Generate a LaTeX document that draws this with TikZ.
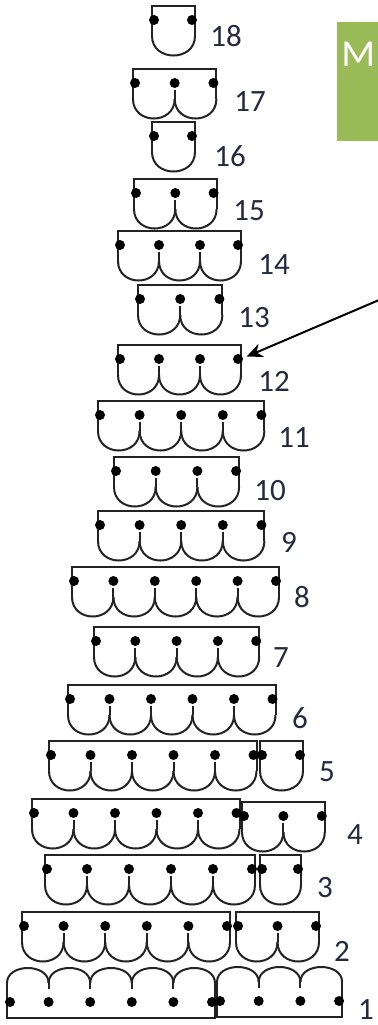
\documentclass[tikz,border=0pt]{standalone}
\usepackage{fontspec}
\setmainfont{Carlito}
\usepackage{tikz}
\usetikzlibrary{arrows.meta}

\definecolor{inkgray}{RGB}{35,35,35}
\definecolor{labelblue}{RGB}{38,42,64}
\definecolor{mgreen}{RGB}{155,187,89}

\tikzset{
  tierline/.style={draw=inkgray, line width=1pt},
  tierdot/.style={fill=black},
  lbl/.style={text=labelblue, font=\fontsize{15.5}{15.5}\selectfont, inner sep=0pt},
  pointer/.style={-{Stealth[length=8pt,width=7pt]}, line width=1pt, shorten >=3pt}
}

% tier with arcs hanging down: left, top, units, unit width, name
\newcommand{\scallop}[5]{%
  \draw[tierline] (#1,#2+30) -- (#1,#2) -- ({#1+#3*#4},#2) -- ({#1+#3*#4},#2+30);
  \foreach \k in {1,...,#3}
    \draw[tierline] ({#1+(\k-1)*#4},#2+30) .. controls ({#1+(\k-1)*#4},#2+56) and ({#1+\k*#4},#2+56) .. ({#1+\k*#4},#2+30);
  \ifnum#3>1
    \foreach \k in {2,...,#3}{
      \draw[tierline] ({#1+(\k-1)*#4},#2+21) -- ({#1+(\k-1)*#4},#2+30);
      \fill[tierdot] ({#1+(\k-1)*#4},#2+14) circle (2.5pt);
    }
  \fi
  \fill[tierdot] ({#1+2},#2+14) circle (2.5pt);
  \fill[tierdot] ({#1+#3*#4-3},#2+14) circle (2.5pt);
  \coordinate (#5-e) at ({#1+#3*#4},#2+14);
}

% tier with arcs standing up: left, bottom, units, unit width, name
\newcommand{\scallopup}[5]{%
  \draw[tierline] (#1,#2-35) -- (#1,#2) -- ({#1+#3*#4},#2) -- ({#1+#3*#4},#2-35);
  \foreach \k in {1,...,#3}
    \draw[tierline] ({#1+(\k-1)*#4},#2-35) .. controls ({#1+(\k-1)*#4},#2-55) and ({#1+\k*#4},#2-55) .. ({#1+\k*#4},#2-35);
  \ifnum#3>1
    \foreach \k in {2,...,#3}{
      \draw[tierline] ({#1+(\k-1)*#4},#2-37) -- ({#1+(\k-1)*#4},#2-29);
      \fill[tierdot] ({#1+(\k-1)*#4},#2-16) circle (2.5pt);
    }
  \fi
  \fill[tierdot] ({#1+3},#2-16) circle (2.5pt);
  \fill[tierdot] ({#1+#3*#4-3},#2-16) circle (2.5pt);
  \coordinate (#5-e) at ({#1+#3*#4},#2-16);
}

\begin{document}
\begin{tikzpicture}[x=0.5pt,y=-0.5pt]

\useasboundingbox (0,0) rectangle (377,1025);

% green tab, top right
\fill[mgreen] (337,22) rectangle (380,141);
\node[text=white, font=\fontsize{19}{19}\selectfont, anchor=base west, inner sep=0pt] (mtab) at (341,66) {\scalebox{1.04}[1]{M}};

% the tiers, top to bottom
\scallop{152}{6}{1}{43}{t18}
\scallop{133}{69}{2}{41.7}{t17}
\scallop{152}{122}{1}{43}{t16}
\scallop{134}{179}{2}{41.3}{t15}
\scallop{118}{231}{3}{41}{t14}
\scallop{138}{285}{2}{42.2}{t13}
\scallop{118}{345}{3}{41}{t12}
\scallop{98}{401}{4}{41.6}{t11}
\scallop{114}{457}{3}{41.7}{t10}
\scallop{98}{511}{4}{41.6}{t9}
\scallop{72}{567}{5}{41.4}{t8}
\scallop{94}{627}{4}{41.3}{t7}
\scallop{68}{685}{5}{41.5}{t6}
\scallop{49}{741}{5}{41.5}{t5a}
\scallop{260}{741}{1}{43}{t5b}
\scallop{32}{799}{5}{41.5}{t4a}
\scallop{242}{802}{2}{41.4}{t4b}
\scallop{45}{855}{5}{42}{t3a}
\scallop{260}{855}{1}{41}{t3b}
\scallop{22}{912}{5}{41.6}{t2a}
\scallop{236}{912}{2}{41.5}{t2b}
\scallopup{7}{1018}{5}{41.6}{t1a}
\scallopup{217}{1017}{3}{41.7}{t1b}

% numbers
\node[lbl] (n18) at (226,36) {18};
\node[lbl] (n17) at (250,102) {17};
\node[lbl] (n16) at (230,156) {16};
\node[lbl] (n15) at (249,211) {15};
\node[lbl] (n14) at (274,265) {14};
\node[lbl] (n13) at (254,318) {13};
\node[lbl] (n12) at (274,381) {12};
\node[lbl] (n11) at (294,438) {11};
\node[lbl] (n10) at (270,491) {10};
\node[lbl] (n9) at (289,542) {9};
\node[lbl] (n8) at (302,597) {8};
\node[lbl] (n7) at (281,658) {7};
\node[lbl] (n6) at (300,718) {6};
\node[lbl] (n5) at (327,772) {5};
\node[lbl] (n4) at (355,835) {4};
\node[lbl] (n3) at (325,888) {3};
\node[lbl] (n2) at (342,951) {2};
\node[lbl] (n1) at (366,1010) {1};

% pointer to tier 12
\coordinate (ptail) at (379,300);
\draw[pointer] (ptail) -- (t12-e);

\end{tikzpicture}
\end{document}
